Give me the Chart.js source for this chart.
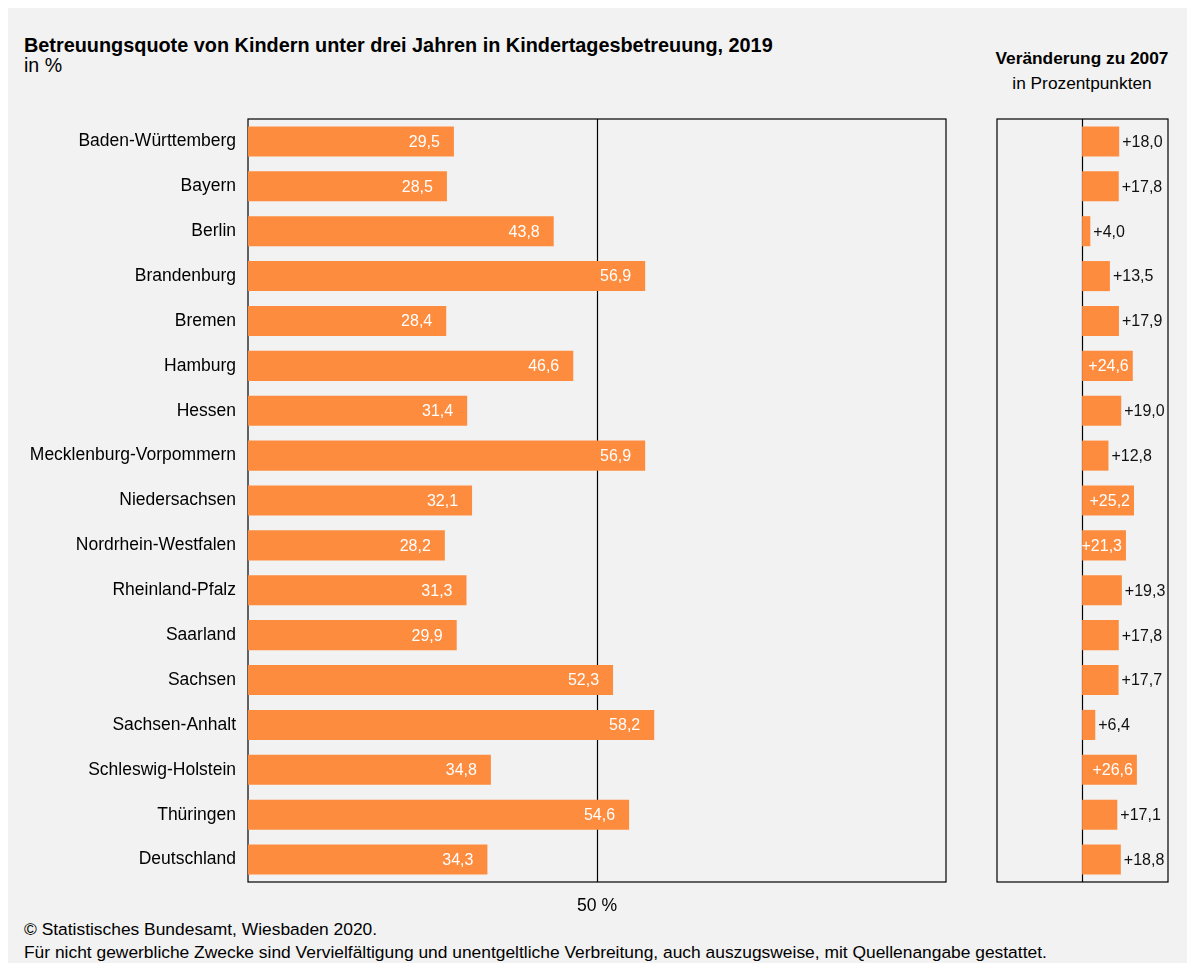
<!DOCTYPE html>
<html>
<head>
<meta charset="utf-8">
<script src="https://cdn.jsdelivr.net/npm/chart.js@4/dist/chart.umd.min.js"></script>
<style>
  html, body { margin: 0; padding: 0; background: #fff; }
  body { width: 1195px; height: 971px; position: relative; font-family: "Liberation Sans", Arial, sans-serif; color: #000; }
  #panel { position: absolute; left: 8px; top: 8px; width: 1179px; height: 955px; background: #f2f2f2; }
  .txt { position: absolute; white-space: nowrap; line-height: 1.15; }
  #title { left: 24px; top: 34px; font-size: 19.85px; font-weight: bold; }
  #sub { left: 24px; top: 54px; font-size: 19.6px; }
  #rtitle { left: 982px; width: 200px; text-align: center; top: 49px; font-size: 17.3px; font-weight: bold; }
  #rsub { left: 982px; width: 200px; text-align: center; top: 74px; font-size: 17.3px; }
  #foot1 { left: 24px; top: 919px; font-size: 17.4px; }
  #foot2 { left: 24px; top: 942px; font-size: 17.4px; }
  #leftWrap { position: absolute; left: 8px; top: 117px; width: 940px; height: 805px; }
  #rightWrap { position: absolute; left: 995px; top: 117px; width: 175px; height: 767px; }
</style>
</head>
<body>
<div id="panel"></div>
<div class="txt" id="title">Betreuungsquote von Kindern unter drei Jahren in Kindertagesbetreuung, 2019</div>
<div class="txt" id="sub">in %</div>
<div class="txt" id="rtitle">Veränderung zu 2007</div>
<div class="txt" id="rsub">in Prozentpunkten</div>
<div class="txt" id="foot1">© Statistisches Bundesamt, Wiesbaden 2020.</div>
<div class="txt" id="foot2">Für nicht gewerbliche Zwecke sind Vervielfältigung und unentgeltliche Verbreitung, auch auszugsweise, mit Quellenangabe gestattet.</div>
<div id="leftWrap"><canvas id="left"></canvas></div>
<div id="rightWrap"><canvas id="right"></canvas></div>
<script>
const states = ["Baden-Württemberg", "Bayern", "Berlin", "Brandenburg", "Bremen", "Hamburg", "Hessen",
  "Mecklenburg-Vorpommern", "Niedersachsen", "Nordrhein-Westfalen", "Rheinland-Pfalz", "Saarland",
  "Sachsen", "Sachsen-Anhalt", "Schleswig-Holstein", "Thüringen", "Deutschland"];
const quote2019 = [29.5, 28.5, 43.8, 56.9, 28.4, 46.6, 31.4, 56.9, 32.1, 28.2, 31.3, 29.9, 52.3, 58.2, 34.8, 54.6, 34.3];
const change2007 = [18.0, 17.8, 4.0, 13.5, 17.9, 24.6, 19.0, 12.8, 25.2, 21.3, 19.3, 17.8, 17.7, 6.4, 26.6, 17.1, 18.8];

const orange = "#fe8c3e";
const font = "Liberation Sans";
const fmt = v => v.toFixed(1).replace(".", ",");

// frame + reference line + value labels
const framePlugin = {
  id: "frame",
  beforeDatasetsDraw(chart, args, opts) {
    const { ctx, chartArea: a, scales } = chart;
    ctx.save();
    ctx.strokeStyle = "#000";
    ctx.lineWidth = 1.2;
    ctx.strokeRect(a.left, a.top, a.right - a.left, a.bottom - a.top);
    const x = Math.round(scales.x.getPixelForValue(opts.refValue)) + 0.5;
    ctx.beginPath();
    ctx.moveTo(x, a.top);
    ctx.lineTo(x, a.bottom);
    ctx.stroke();
    ctx.restore();
  },
  afterDatasetsDraw(chart, args, opts) {
    const { ctx } = chart;
    const meta = chart.getDatasetMeta(0);
    const data = chart.data.datasets[0].data;
    ctx.save();
    ctx.font = "16px " + font;
    ctx.textBaseline = "middle";
    meta.data.forEach((bar, i) => {
      const v = data[i];
      const txt = (opts.plus ? "+" : "") + fmt(v);
      if (v >= opts.insideFrom) {
        ctx.fillStyle = "#fff";
        ctx.textAlign = "right";
        ctx.fillText(txt, bar.x - opts.inset, bar.y + 1);
      } else {
        ctx.fillStyle = "#111";
        ctx.textAlign = "left";
        ctx.fillText(txt, bar.x + 3, bar.y + 1);
      }
    });
    ctx.restore();
  }
};

new Chart(document.getElementById("left"), {
  type: "bar",
  data: {
    labels: states,
    datasets: [{ data: quote2019, backgroundColor: orange, barPercentage: 0.67, categoryPercentage: 1 }]
  },
  options: {
    indexAxis: "y",
    responsive: true,
    maintainAspectRatio: false,
    animation: false,
    layout: { padding: { top: 2, right: 2, left: 0, bottom: 0 } },
    plugins: {
      legend: { display: false },
      tooltip: { enabled: false },
      frame: { refValue: 50, insideFrom: 0, inset: 14, plus: false }
    },
    scales: {
      x: {
        min: 0, max: 100,
        afterBuildTicks: s => { s.ticks = [{ value: 50 }]; },
        grid: { display: false, drawTicks: false },
        border: { display: false },
        ticks: { callback: v => v + " %", color: "#000", font: { family: font, size: 17.6 }, padding: 14 },
        afterFit: s => { s.height = 40; s.paddingLeft = 0; s.paddingRight = 0; }
      },
      y: {
        grid: { display: false, drawTicks: false },
        border: { display: false },
        ticks: { color: "#000", font: { family: font, size: 17.5 }, padding: 12 },
        afterFit: s => { s.width = 240; s.paddingTop = 0; s.paddingBottom = 0; }
      }
    }
  },
  plugins: [framePlugin]
});

new Chart(document.getElementById("right"), {
  type: "bar",
  data: {
    labels: states,
    datasets: [{ data: change2007, backgroundColor: orange, barPercentage: 0.67, categoryPercentage: 1 }]
  },
  options: {
    indexAxis: "y",
    responsive: true,
    maintainAspectRatio: false,
    animation: false,
    layout: { padding: 2 },
    plugins: {
      legend: { display: false },
      tooltip: { enabled: false },
      frame: { refValue: 0, insideFrom: 21, inset: 4, plus: true }
    },
    scales: {
      x: { min: -41.3, max: 41.7, display: false },
      y: { display: false }
    }
  },
  plugins: [framePlugin]
});
</script>
</body>
</html>
